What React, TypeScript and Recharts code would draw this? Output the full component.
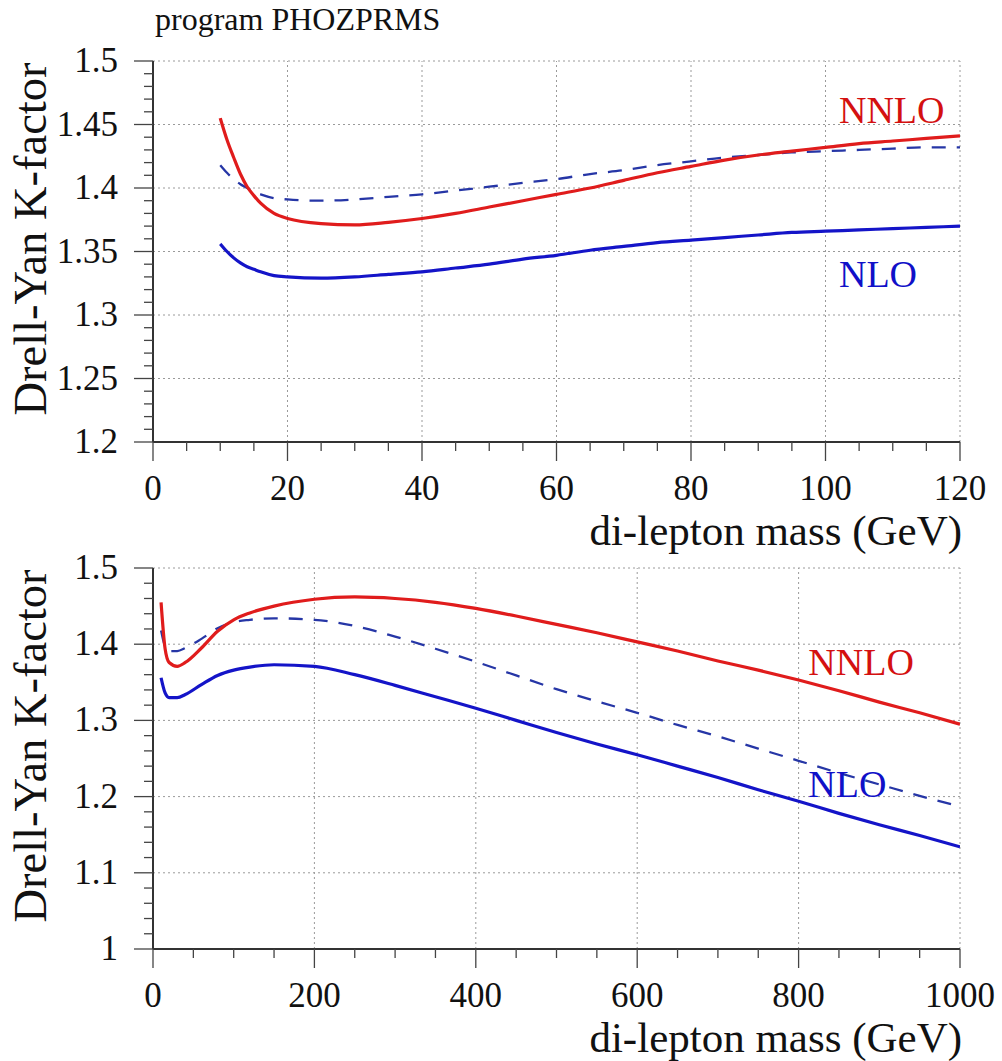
import React from "react";
import { LineChart, Line, XAxis, YAxis, ReferenceLine, ReferenceDot, Label } from "recharts";

// K-factor vs di-lepton mass
const topMass = [10, 11, 12, 13, 14, 15, 16, 18, 20, 25, 30, 35, 40, 45, 50, 55, 60, 65, 70, 75, 80, 85, 90, 95, 100, 105, 110, 115, 120];
const topNnlo = [1.455, 1.438, 1.424, 1.411, 1.401, 1.394, 1.388, 1.38, 1.376, 1.372, 1.371, 1.373, 1.376, 1.38, 1.385, 1.39, 1.395, 1.4, 1.406, 1.412, 1.417, 1.422, 1.426, 1.429, 1.432, 1.435, 1.437, 1.439, 1.441];
const topNlo = [1.356, 1.35, 1.345, 1.341, 1.338, 1.336, 1.334, 1.331, 1.33, 1.329, 1.33, 1.332, 1.334, 1.337, 1.34, 1.344, 1.347, 1.351, 1.354, 1.357, 1.359, 1.361, 1.363, 1.365, 1.366, 1.367, 1.368, 1.369, 1.37];
const topNloDashed = [1.418, 1.412, 1.407, 1.403, 1.4, 1.397, 1.395, 1.392, 1.391, 1.39, 1.391, 1.393, 1.395, 1.398, 1.401, 1.404, 1.407, 1.411, 1.414, 1.418, 1.421, 1.424, 1.426, 1.428, 1.429, 1.43, 1.431, 1.432, 1.432];

const bottomMass = [10, 15, 20, 30, 40, 60, 80, 100, 120, 150, 200, 250, 300, 350, 400, 450, 500, 550, 600, 650, 700, 750, 800, 850, 900, 950, 1000];
const bottomNnlo = [1.455, 1.394, 1.376, 1.371, 1.376, 1.395, 1.417, 1.432, 1.441, 1.45, 1.459, 1.462, 1.46, 1.455, 1.447, 1.437, 1.426, 1.415, 1.403, 1.391, 1.378, 1.366, 1.353, 1.339, 1.324, 1.31, 1.295];
const bottomNlo = [1.356, 1.336, 1.33, 1.33, 1.334, 1.347, 1.359, 1.366, 1.37, 1.373, 1.371, 1.36, 1.346, 1.331, 1.316, 1.3, 1.284, 1.269, 1.255, 1.24, 1.225, 1.209, 1.194, 1.178, 1.163, 1.149, 1.134];
const bottomNloDashed = [1.418, 1.397, 1.391, 1.391, 1.395, 1.407, 1.421, 1.429, 1.432, 1.434, 1.432, 1.424, 1.41, 1.394, 1.377, 1.359, 1.341, 1.325, 1.31, 1.294, 1.279, 1.263, 1.247, 1.231, 1.216, 1.201, 1.187];

const topXTicks = [0, 20, 40, 60, 80, 100, 120];
const topYTicks = [1.2, 1.25, 1.3, 1.35, 1.4, 1.45, 1.5];
const topYLabels = ["1.2", "1.25", "1.3", "1.35", "1.4", "1.45", "1.5"];
const bottomXTicks = [0, 200, 400, 600, 800, 1000];
const bottomYTicks = [1, 1.1, 1.2, 1.3, 1.4, 1.5];
const bottomYLabels = ["1", "1.1", "1.2", "1.3", "1.4", "1.5"];

const FONT = "'Liberation Serif', Tinos, 'Times New Roman', Times, 'DejaVu Serif', serif";
const RED = "#e01c1c";
const BLUE = "#1414c8";
const DASH_BLUE = "#2636a6";
const AXIS = "#444";
const GRID = "#9a9a9a";

// minor tick positions (just axis decoration, not data)
function steps(lo: number, hi: number, step: number) {
  const out: number[] = [];
  const n = Math.round((hi - lo) / step);
  for (let i = 0; i <= n; i++) out.push(Math.round((lo + i * step) * 1000) / 1000);
  return out;
}

const isIn = (list: number[], v: number) => list.some((m) => Math.abs(m - v) < 1e-6);

interface PanelProps {
  mass: number[];
  nnlo: number[];
  nlo: number[];
  dashed: number[];
  xDomain: [number, number];
  yDomain: [number, number];
  xTicks: number[];
  yTicks: number[];
  yLabels: string[];
  xMinor: number;
  yMinor: number;
  nnloAt: [number, number];
  nloAt: [number, number];
}

function Panel(p: PanelProps) {
  const rows = p.mass.map((m, i) => ({ mass: m, nnlo: p.nnlo[i], nlo: p.nlo[i], dashed: p.dashed[i] }));
  const xAll = steps(p.xDomain[0], p.xDomain[1], p.xMinor);
  const yAll = steps(p.yDomain[0], p.yDomain[1], p.yMinor);

  const xTick = (t: any) => {
    const major = isIn(p.xTicks, t.payload.value);
    return (
      <g>
        <line x1={t.x} x2={t.x} y1={t.y} y2={t.y + (major ? 19 : 9)} stroke={AXIS} strokeWidth={1.3} />
        {major && (
          <text x={t.x} y={t.y + 58} textAnchor="middle" fontSize={35} fontFamily={FONT} fill="#111">
            {t.payload.value}
          </text>
        )}
      </g>
    );
  };

  const yTick = (t: any) => {
    const idx = p.yTicks.findIndex((m) => Math.abs(m - t.payload.value) < 1e-6);
    const major = idx >= 0;
    return (
      <g>
        <line x1={t.x - (major ? 19 : 9)} x2={t.x} y1={t.y} y2={t.y} stroke={AXIS} strokeWidth={1.3} />
        {major && (
          <text x={t.x - 35} y={t.y + 11} textAnchor="end" fontSize={35} fontFamily={FONT} fill="#111">
            {p.yLabels[idx]}
          </text>
        )}
      </g>
    );
  };

  return (
    <LineChart width={1002} height={580} data={rows} margin={{ top: 61, right: 42, bottom: 26, left: 0 }}>
      <XAxis
        type="number"
        dataKey="mass"
        domain={p.xDomain}
        ticks={xAll}
        interval={0}
        tickSize={0}
        tickMargin={0}
        tick={xTick}
        tickLine={false}
        axisLine={{ stroke: "#333", strokeWidth: 2 }}
        height={112}
        allowDataOverflow
      >
        <Label
          content={() => (
            <text x={962} y={545} textAnchor="end" fontSize={43} fontFamily={FONT} fill="#111">
              di-lepton mass (GeV)
            </text>
          )}
        />
      </XAxis>
      <YAxis
        type="number"
        domain={p.yDomain}
        ticks={yAll}
        interval={0}
        tickSize={0}
        tickMargin={0}
        tick={yTick}
        tickLine={false}
        axisLine={{ stroke: "#333", strokeWidth: 2 }}
        width={153}
        allowDataOverflow
      >
        <Label
          content={() => (
            <text x={46} y={239} transform="rotate(-90 46 239)" textAnchor="middle" fontSize={46.5} fontFamily={FONT} fill="#111">
              Drell-Yan K-factor
            </text>
          )}
        />
      </YAxis>
      {p.xTicks.filter((v) => v !== p.xDomain[0]).map((v) => (
        <ReferenceLine key={"gx" + v} x={v} stroke={GRID} strokeDasharray="2 3" strokeWidth={1} />
      ))}
      {p.yTicks.filter((v) => v !== p.yDomain[0]).map((v) => (
        <ReferenceLine key={"gy" + v} y={v} stroke={GRID} strokeDasharray="2 3" strokeWidth={1} />
      ))}
      <Line type="monotone" dataKey="dashed" stroke={DASH_BLUE} strokeWidth={2.3} strokeDasharray="14 11" dot={false} isAnimationActive={false} />
      <Line type="monotone" dataKey="nlo" stroke={BLUE} strokeWidth={3.2} dot={false} isAnimationActive={false} />
      <Line type="monotone" dataKey="nnlo" stroke={RED} strokeWidth={3.2} dot={false} isAnimationActive={false} />
      <ReferenceDot
        x={p.nnloAt[0]}
        y={p.nnloAt[1]}
        r={0}
        shape={(s: any) => (
          <text x={s.cx} y={s.cy} fontSize={38} fontFamily={FONT} fill="#d41010">
            NNLO
          </text>
        )}
      />
      <ReferenceDot
        x={p.nloAt[0]}
        y={p.nloAt[1]}
        r={0}
        shape={(s: any) => (
          <text x={s.cx} y={s.cy} fontSize={38} fontFamily={FONT} fill="#1010c8">
            NLO
          </text>
        )}
      />
    </LineChart>
  );
}

export default function App() {
  return (
    <div style={{ position: "absolute", left: 0, top: 0, width: 1002, height: 1061, background: "#fff", overflow: "hidden" }}>
      <div style={{ position: "absolute", left: 155, top: 1, fontFamily: FONT, fontSize: 32, color: "#111", whiteSpace: "nowrap" }}>
        program PHOZPRMS
      </div>
      <div style={{ position: "absolute", left: 0, top: 0 }}>
        <Panel
          mass={topMass}
          nnlo={topNnlo}
          nlo={topNlo}
          dashed={topNloDashed}
          xDomain={[0, 120]}
          yDomain={[1.2, 1.5]}
          xTicks={topXTicks}
          yTicks={topYTicks}
          yLabels={topYLabels}
          xMinor={5}
          yMinor={0.01}
          nnloAt={[102, 1.451]}
          nloAt={[102, 1.322]}
        />
      </div>
      <div style={{ position: "absolute", left: 0, top: 507 }}>
        <Panel
          mass={bottomMass}
          nnlo={bottomNnlo}
          nlo={bottomNlo}
          dashed={bottomNloDashed}
          xDomain={[0, 1000]}
          yDomain={[1, 1.5]}
          xTicks={bottomXTicks}
          yTicks={bottomYTicks}
          yLabels={bottomYLabels}
          xMinor={50}
          yMinor={0.02}
          nnloAt={[812, 1.36]}
          nloAt={[812, 1.2]}
        />
      </div>
    </div>
  );
}
